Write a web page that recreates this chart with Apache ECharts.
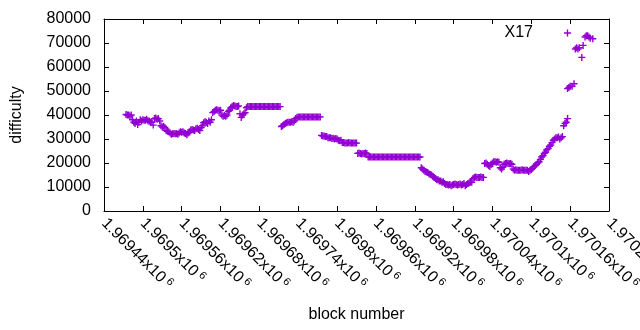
<!DOCTYPE html>
<html><head><meta charset="utf-8">
<script src="https://cdn.jsdelivr.net/npm/echarts@6/dist/echarts.min.js"></script>
<style>html,body{margin:0;padding:0;background:#fff}#c{width:640px;height:330px}</style>
</head><body><div id="c"></div>
<script>
const seriesName = 'X17';
const xMin = 1969440, xMax = 1970220, xStep = 60;
const xTickLabels = ['1.96944','1.9695','1.96956','1.96962','1.96968','1.96974','1.9698','1.96986','1.96992','1.96998','1.97004','1.9701','1.97016','1.97022'];
const yMin = 0, yMax = 80000, yStep = 10000;
const yTickLabels = ['0','10000','20000','30000','40000','50000','60000','70000','80000'];

// difficulty sampled every 2 blocks from firstBlock
const firstBlock = 1969470, blockStep = 2;
const difficulty = [
  null,null,40200,40000,40000,39600,40000,38000,37000,36500,
  37500,36000,37000,38000,37500,38000,37800,37800,38200,37500,
  37500,37000,37000,35800,38500,38800,38200,38500,37500,35500,
  35000,35300,34800,33500,33200,33000,32500,32000,32200,32300,
  32200,32300,32000,32500,33000,32800,33000,32500,32300,31800,
  32500,33000,33800,34000,33800,33500,34300,34500,34000,33500,
  34800,35500,36800,37200,37000,36500,37500,37000,38000,41000,
  41500,42000,42200,42000,41800,42000,40000,39500,39800,39500,
  40000,41500,42000,43000,43500,44000,43800,43500,43500,43800,
  40500,39000,40000,40500,41000,43000,43500,43500,43500,43500,
  43500,43500,43500,43500,43500,43500,43500,43500,43500,43500,
  43500,43500,43500,43500,43500,43500,43500,43500,43500,43500,
  43500,43500,35200,35500,36000,36500,36800,37000,37000,37000,
  37200,37000,37500,38500,39000,39200,39200,39200,39200,39200,
  39200,39200,39200,39200,39200,39200,39200,39200,39200,39200,
  39200,39200,39200,31500,31200,31300,31000,31000,30500,30500,
  30500,30200,30300,30000,30200,30000,29500,29300,29500,28500,
  28500,28300,28300,28300,28500,28300,28300,28300,28300,28300,
  28300,24000,24200,24000,23800,24000,24000,24200,24000,22500,
  22500,22500,22500,22500,22500,22500,22500,22500,22500,22500,
  22500,22500,22500,22500,22500,22500,22500,22500,22500,22500,
  22500,22500,22500,22500,22500,22500,22500,22500,22500,22500,
  22500,22500,22500,22500,22500,22500,22500,22500,22500,22500,
  18000,17500,17000,16500,16300,16000,15500,15200,15000,14500,
  14000,13500,13000,13000,12500,12500,12000,12200,11500,11000,
  11000,10800,11000,10500,10800,11000,11200,11000,10800,11000,
  11200,10800,11000,11500,10500,11000,11500,11800,12000,12000,
  13500,14000,14200,14000,14000,14000,14200,14000,14000,19800,
  20000,19500,19000,18500,19500,20000,20500,20500,20300,20500,
  20300,18000,17500,18200,19500,19800,20000,19800,19700,19800,
  19500,17500,17000,17200,17000,17000,17000,17000,17200,17000,
  17000,17000,17000,16500,17000,17300,17800,18500,19000,19500,
  20000,20500,21500,22500,23000,24000,24500,25500,26000,27000,
  27500,28500,29500,30000,30500,30500,30800,30000,30500,31000
];
// sparse tail of the series
const tailBlocks     = [1970150,1970152,1970154,1970156,1970156,1970158,1970160,1970163,1970166,1970168,1970170,1970172,1970174,1970178,1970180,1970183,1970185,1970187,1970189,1970191,1970195];
const tailDifficulty = [35500,36500,37000,38500,51000,51500,52000,52000,53000,67500,68000,67500,68000,64000,69000,72500,73000,73000,72500,72000,71800];

const points = [];
difficulty.forEach((v, i) => { if (v != null) points.push([firstBlock + i * blockStep, v]); });
tailBlocks.forEach((b, i) => points.push([b, tailDifficulty[i]]));

const FONT = 'Liberation Sans';
const PURPLE = '#9400d3';
const plus = 'path://M2.8,0h1.4v2.8h2.8v1.4h-2.8v2.8h-1.4v-2.8h-2.8v-1.4h2.8z';
const tickCommon = { show: true, inside: true, length: 5, lineStyle: { color: '#000', width: 1 } };
const lineCommon = { show: true, onZero: false, lineStyle: { color: '#000', width: 1 } };

const chart = echarts.init(document.getElementById('c'), null, { renderer: 'canvas' });
chart.setOption({
  animation: false,
  backgroundColor: '#fff',
  grid: { left: 104, right: 31, top: 19, bottom: 119, containLabel: false, outerBoundsMode: 'none' },
  legend: {
    data: [{ name: seriesName, icon: plus }],
    right: 69, top: 25, align: 'right', padding: 0,
    itemWidth: 7, itemHeight: 7,
    textStyle: { fontFamily: FONT, fontSize: 16, color: '#000', padding: [0, 26, 0, 0] }
  },
  xAxis: [{
    type: 'value', min: xMin, max: xMax, interval: xStep,
    axisLine: lineCommon, axisTick: tickCommon, splitLine: { show: false },
    axisLabel: {
      rotate: -45, margin: 10, color: '#000', fontFamily: FONT, fontSize: 16,
      formatter: v => '{m|' + xTickLabels[Math.round((v - xMin) / xStep)] + 'x10}{s| 6}',
      rich: {
        m: { fontFamily: FONT, fontSize: 16, color: '#000', lineHeight: 18 },
        s: { fontFamily: FONT, fontSize: 11, color: '#000', verticalAlign: 'top', lineHeight: 11 }
      }
    },
    name: 'block number', nameLocation: 'middle', nameGap: 96,
    nameTextStyle: { fontFamily: FONT, fontSize: 16, color: '#000' }
  }, {
    type: 'value', position: 'top', min: xMin, max: xMax, interval: xStep,
    axisLine: lineCommon, axisTick: tickCommon, axisLabel: { show: false }, splitLine: { show: false }
  }],
  yAxis: [{
    type: 'value', min: yMin, max: yMax, interval: yStep,
    axisLine: lineCommon, axisTick: tickCommon, splitLine: { show: false },
    axisLabel: {
      margin: 13, color: '#000', fontFamily: FONT, fontSize: 16,
      formatter: v => yTickLabels[Math.round((v - yMin) / yStep)]
    },
    name: 'difficulty', nameLocation: 'middle', nameGap: 79, nameRotate: 90,
    nameTextStyle: { fontFamily: FONT, fontSize: 16, color: '#000' }
  }, {
    type: 'value', position: 'right', min: yMin, max: yMax, interval: yStep,
    axisLine: lineCommon, axisTick: tickCommon, axisLabel: { show: false }, splitLine: { show: false }
  }],
  series: [{
    name: seriesName, type: 'scatter', data: points,
    symbol: plus, symbolSize: 7,
    itemStyle: { color: PURPLE, opacity: 1 },
    emphasis: { disabled: true }
  }]
});
</script>
</body></html>
